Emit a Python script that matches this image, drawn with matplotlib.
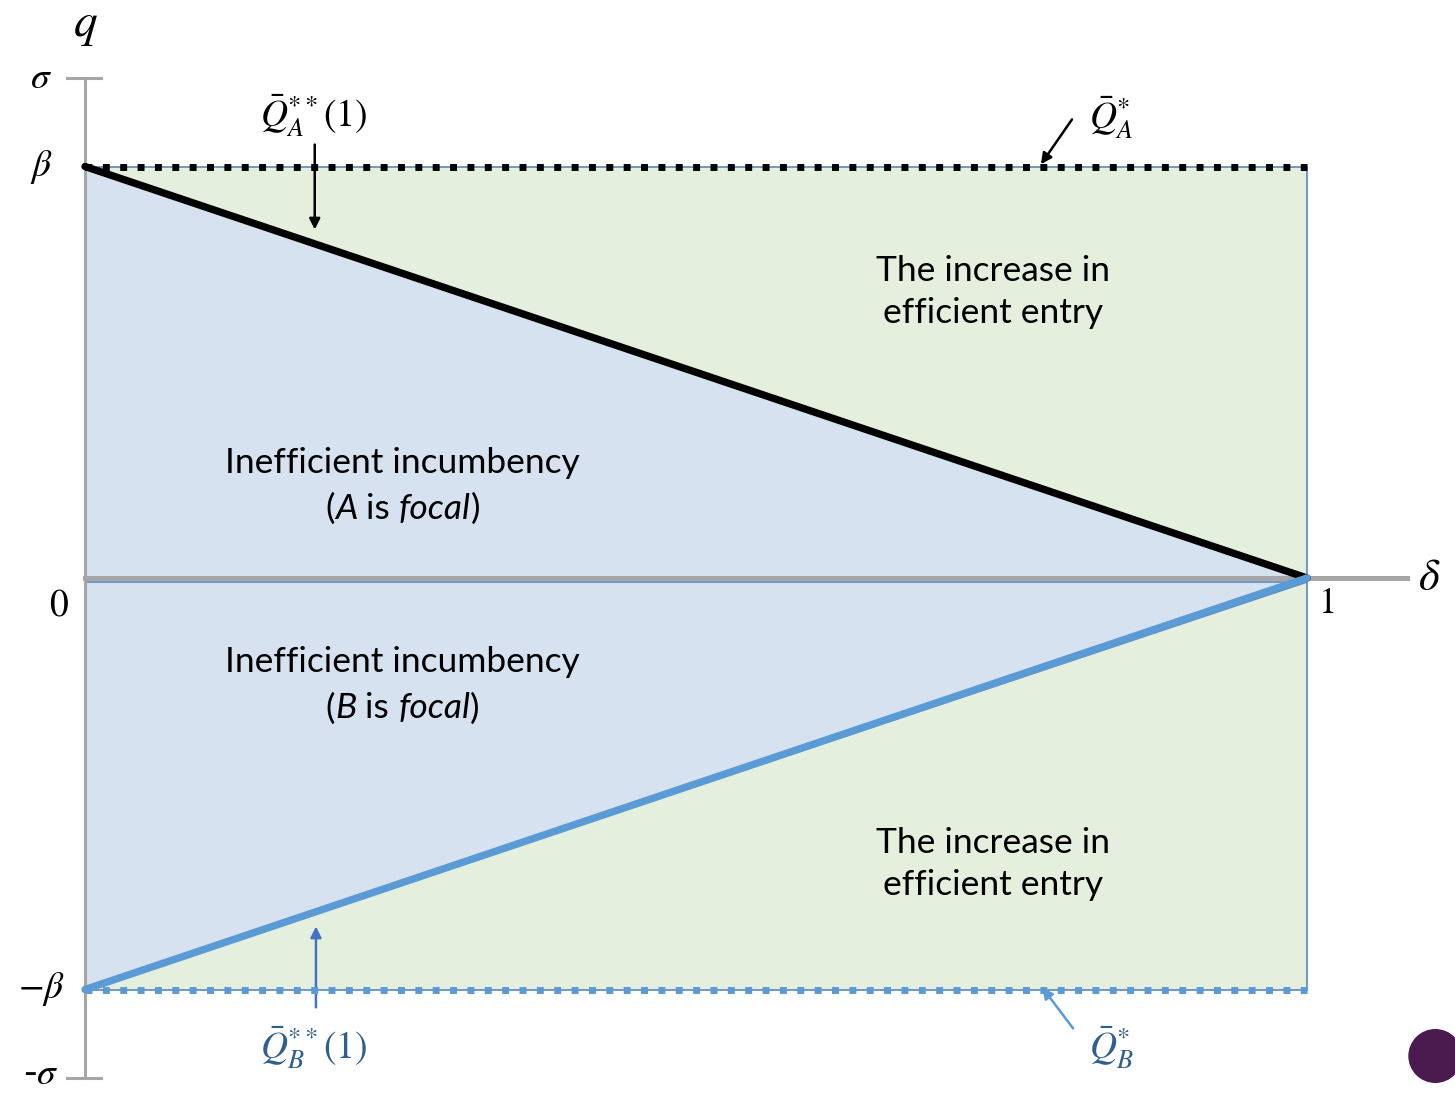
import matplotlib.pyplot as plt
from matplotlib.patches import Polygon, Ellipse

plt.rcParams['mathtext.fontset'] = 'stix'

# model values (beta normalised to 1)
beta = 1.0
sigma = 1.216
delta = [0, 1]
qa_star = [beta, beta]      # Q_A^*
qa_ss = [beta, 0]           # Q_A^**(1)
qb_ss = [-beta, 0]          # Q_B^**(1)
qb_star = [-beta, -beta]    # Q_B^*

tick_labels = [r'$\sigma$', r'$\beta$', '0', r'$-\beta$', r'-$\sigma$']

blue_fill = '#d6e2ef'
green_fill = '#e4f0dd'
edge_blue = '#5b87bd'
line_blue = '#5b9bd5'
dark_blue = '#2f5f8f'
axis_gray = '#a6a6a6'

# pixel layout: delta 0..1 -> x 85..1307, q 0 -> y 578, beta = 411.5 px
XS, YS = 1222.0, 411.5
fig = plt.figure(figsize=(14.55, 10.93), dpi=100)
ax = fig.add_axes([0, 0, 1, 1])
ax.set_xlim(-85 / XS, 1370 / XS)
ax.set_ylim(-515 / YS, 578 / YS)
ax.axis('off')

# shaded regions
gap = 4 / YS
ax.add_patch(Polygon([(delta[0], qa_star[0]), (delta[1], qa_star[1]), (delta[1], qa_ss[1])],
                     closed=True, fc=green_fill, ec=edge_blue, lw=1.2, zorder=1))
ax.add_patch(Polygon([(delta[0], qa_ss[0]), (delta[1], qa_ss[1]), (delta[0], 0)],
                     closed=True, fc=blue_fill, ec=edge_blue, lw=1.2, zorder=1))
ax.add_patch(Polygon([(delta[0], -gap), (delta[1], -gap), (delta[0], qb_ss[0])],
                     closed=True, fc=blue_fill, ec=edge_blue, lw=1.2, zorder=1))
ax.add_patch(Polygon([(delta[0], qb_star[0]), (delta[1], qb_star[1]), (delta[1], qb_ss[1] - gap)],
                     closed=True, fc=green_fill, ec=edge_blue, lw=1.2, zorder=1))

# axes
ax.plot([0, 0], [-sigma, sigma], color=axis_gray, lw=2.2, zorder=2)
ax.plot([-0.015, 0.013], [sigma, sigma], color=axis_gray, lw=2.2, zorder=2)
ax.plot([-0.015, 0.013], [-sigma, -sigma], color=axis_gray, lw=2.2, zorder=2)
ax.plot([0, 1.082], [0, 0], color=axis_gray, lw=3.6, zorder=2)

# thresholds
ax.plot(delta, qa_star, color='black', lw=5, ls=(0, (1, 1.5)), zorder=4)
ax.plot(delta, qa_ss, color='black', lw=5.3, solid_capstyle='round', zorder=4)
ax.plot(delta, qb_ss, color=line_blue, lw=5.3, solid_capstyle='round', zorder=4)
ax.plot(delta, qb_star, color=line_blue, lw=5, ls=(0, (1, 1.5)), zorder=4)

# axis labels
serif = 'STIXGeneral'
ax.text(0, 552 / YS, r'$q$', fontsize=34, ha='center', va='center')
ax.text(1.1, 0, r'$\delta$', fontsize=32, ha='center', va='center')
ax.text(1.01, -0.065, '1', family=serif, fontsize=26, ha='left', va='center')
ytick_pos = [sigma, beta, -0.07, -beta, -sigma + 0.01]
ytick_x = [-0.036, -0.036, -0.022, -0.036, -0.036]
for lab, yy, xx in zip(tick_labels, ytick_pos, ytick_x):
    fam = serif if lab == '0' else None
    ax.text(xx, yy, lab, fontsize=27, family=fam, ha='center', va='center')

# threshold labels and arrows
arrow_kw = dict(arrowstyle='-|>', lw=1.8, mutation_scale=16)
ax.text(0.187, 1.125, r'$\bar{Q}_A^{**}(1)$', fontsize=27, ha='center', va='center')
ax.annotate('', xy=(0.188, 0.84), xytext=(0.188, 1.06),
            arrowprops=dict(color='black', **arrow_kw))
ax.text(0.822, 1.12, r'$\bar{Q}_A^{*}$', fontsize=27, ha='left', va='center')
ax.annotate('', xy=(0.781, 1.0), xytext=(0.809, 1.12),
            arrowprops=dict(color='black', **arrow_kw))

ax.text(0.187, -1.14, r'$\bar{Q}_B^{**}(1)$', fontsize=27, color=dark_blue, ha='center', va='center')
ax.annotate('', xy=(0.189, -0.84), xytext=(0.189, -1.05),
            arrowprops=dict(color='#4472c4', **arrow_kw))
ax.text(0.822, -1.14, r'$\bar{Q}_B^{*}$', fontsize=27, color=dark_blue, ha='left', va='center')
ax.annotate('', xy=(0.782, -0.99), xytext=(0.81, -1.1),
            arrowprops=dict(color=line_blue, **arrow_kw))

# region labels
body = 'Lato'
fs = 25.5
for yy in (0.695, -0.695):
    ax.text(0.743, yy, 'The increase in\nefficient entry', family=body, fontsize=fs,
            ha='center', va='center', linespacing=1.4)
for yy in (0.28, -0.205):
    ax.text(0.26, yy, 'Inefficient incumbency', family=body, fontsize=fs,
            ha='center', va='center')

renderer = fig.canvas.get_renderer()


def mixed_line(xc, yy, pieces):
    # lay out (text, style) pieces side by side, centred on xc
    texts = [ax.text(0, yy, s, family=body, fontsize=fs, style=st, va='center', ha='left')
             for s, st in pieces]
    widths = [t.get_window_extent(renderer).width / XS for t in texts]
    x = xc - sum(widths) / 2
    for t, w in zip(texts, widths):
        t.set_x(x)
        x += w


mixed_line(0.26, 0.168, [('(', 'normal'), ('A', 'italic'), (' is ', 'normal'),
                          ('focal', 'italic'), (')', 'normal')])
mixed_line(0.26, -0.317, [('(', 'normal'), ('B', 'italic'), (' is ', 'normal'),
                           ('focal', 'italic'), (')', 'normal')])

# corner emblem
ax.add_patch(Ellipse((1.105, -478 / YS), 54 / XS, 54 / YS, fc='#4b1a4f', ec='none'))

fig.savefig('out.png', dpi=100)
